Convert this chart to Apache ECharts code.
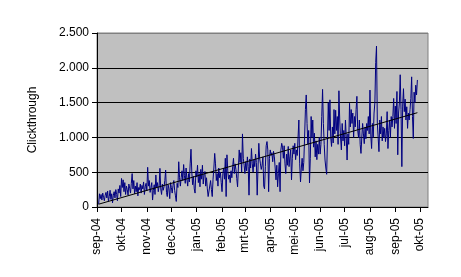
<!DOCTYPE html>
<html>
<head>
<meta charset="utf-8">
<script src="https://cdn.jsdelivr.net/npm/echarts@6/dist/echarts.min.js"></script>
<style>html,body{margin:0;padding:0;background:#fff}#c{width:461px;height:277px}</style>
</head>
<body>
<div id="c"></div>
<script>
// Tick labels (month starts) on the date axis
const tickLabels = ['sep-04','okt-04','nov-04','dec-04','jan-05','feb-05','mrt-05','apr-05','mei-05','jun-05','jul-05','aug-05','sep-05','okt-05'];
// Day index (days since 1 Sep 2004) of first data point
const firstDay = 2;
// Daily clickthrough values
const clicks = [
40,190,120,180,100,200,140,90,170,210,
130,230,80,150,240,110,190,60,170,220,
130,250,180,90,260,200,310,150,410,280,
390,220,350,180,300,250,170,330,270,200,
340,480,260,380,190,300,220,350,160,280,
250,330,200,310,260,360,180,290,340,230,
570,300,380,210,280,350,100,240,320,180,
460,280,350,220,300,555,260,180,330,240,
290,380,530,210,150,320,260,120,350,280,
200,310,380,240,160,80,340,280,650,420,
300,420,520,380,610,450,340,560,400,300,
480,360,620,830,500,320,440,260,200,520,
430,600,350,480,290,540,400,600,330,470,
510,300,420,260,150,140,140,380,250,150,
400,560,770,620,380,480,300,560,420,500,
350,220,480,560,400,700,150,750,520,400,
460,350,520,420,580,700,480,620,540,410,
290,560,820,640,780,500,1050,700,600,480,
650,520,720,580,170,690,560,840,620,500,
680,580,760,640,170,560,915,700,620,540,
600,720,300,260,580,880,940,820,220,700,
820,740,780,650,800,720,560,390,600,290,
480,640,220,820,915,860,700,880,620,480,
760,600,870,580,720,820,390,700,880,760,
915,680,820,740,1000,1250,620,360,560,700,
520,640,1000,1400,1610,1200,900,1100,345,700,
1300,1000,1250,860,1060,720,950,680,900,760,
1000,760,900,1300,1690,1200,900,675,560,470,
470,1500,1100,1540,1000,870,1150,920,1400,1050,
1390,1100,1300,900,1670,1250,1000,820,1200,950,
1100,880,1250,1000,675,1050,900,1490,1150,1400,
1200,1350,1000,1300,1150,1400,1590,1100,1000,1250,
900,770,1000,1200,1050,910,1150,980,1200,1100,
1300,1050,1680,1035,840,1200,1000,1350,1500,2075,
2313,1200,1000,795,1250,1050,1300,950,1150,1000,
1130,940,1050,1370,840,1100,1250,1000,1300,1150,
1300,1560,1130,1450,1200,1660,750,1350,1500,1900,
1400,580,1450,1700,1370,1550,1250,1440,1130,1350,
1250,1400,1560,1870,1300,985,1650,1500,1750,1610,1825
];

const DAY = 86400000;
const base = Date.UTC(2004, 8, 1);
const tickDays = tickLabels.map((_, i) => Math.round((Date.UTC(2004, 8 + i, 1) - base) / DAY));

const seriesData = clicks.map((v, i) => [firstDay + i, v]);

// linear trendline (least squares)
let n = seriesData.length, sx = 0, sy = 0, sxx = 0, sxy = 0;
seriesData.forEach(([x, y]) => { sx += x; sy += y; sxx += x * x; sxy += x * y; });
const slope = (n * sxy - sx * sy) / (n * sxx - sx * sx);
const icpt = (sy - slope * sx) / n;
const xFirst = seriesData[0][0], xLast = seriesData[n - 1][0];
const trendData = [[xFirst, icpt + slope * xFirst], [xLast, icpt + slope * xLast]];

const fmt = v => String(v).replace(/\B(?=(\d{3})+(?!\d))/g, '.');
const font = 'Liberation Sans, Arial, sans-serif';

const chart = echarts.init(document.getElementById('c'), null, {renderer: 'canvas'});
chart.setOption({
  animation: false,
  grid: {
    left: 97, right: 33, top: 33, bottom: 70,
    containLabel: false, outerBoundsMode: 'none',
    show: true, backgroundColor: '#C0C0C0', borderColor: '#808080', borderWidth: 1
  },
  xAxis: {
    type: 'value', min: 0, max: 405,
    axisLine: {show: true, onZero: false, lineStyle: {color: '#000', width: 1}},
    axisTick: {show: true, length: 5, customValues: tickDays, lineStyle: {color: '#000'}},
    axisLabel: {
      customValues: tickDays, rotate: 90, margin: 11,
      color: '#000', fontSize: 12, fontFamily: font,
      formatter: v => tickLabels[tickDays.indexOf(Math.round(v))] || ''
    },
    splitLine: {show: false}
  },
  yAxis: {
    type: 'value', min: 0, max: 2500, interval: 500,
    name: 'Clickthrough', nameLocation: 'middle', nameRotate: 90, nameGap: 58,
    nameTextStyle: {color: '#000', fontSize: 12, fontFamily: font},
    axisLine: {show: true, lineStyle: {color: '#000', width: 1}},
    axisTick: {show: true, length: 5, lineStyle: {color: '#000'}},
    axisLabel: {color: '#000', fontSize: 12, fontFamily: font, margin: 8, formatter: fmt},
    splitLine: {show: true, lineStyle: {color: ['#000','#000','#000','#000','#000','#808080'], width: 1}}
  },
  series: [
    {
      type: 'line', data: seriesData, showSymbol: false, symbol: 'none',
      lineStyle: {color: '#000080', width: 1}, z: 2
    },
    {
      type: 'line', data: trendData, showSymbol: false, symbol: 'none',
      lineStyle: {color: '#000', width: 1}, z: 3
    }
  ]
});
</script>
</body>
</html>
